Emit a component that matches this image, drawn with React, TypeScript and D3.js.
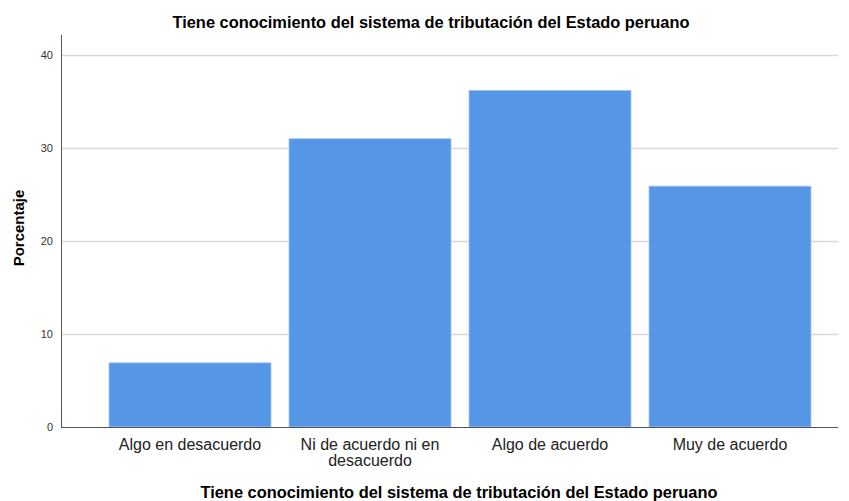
import React, { useEffect, useRef } from 'react';
import * as d3 from 'd3';

const categories = ['Algo en desacuerdo', 'Ni de acuerdo ni en desacuerdo', 'Algo de acuerdo', 'Muy de acuerdo'];
const categoryLines = [['Algo en desacuerdo'], ['Ni de acuerdo ni en', 'desacuerdo'], ['Algo de acuerdo'], ['Muy de acuerdo']];
const percentages = [6.9, 31.0, 36.2, 25.9];
const yTicks = [0, 10, 20, 30, 40];

const chartTitle = 'Tiene conocimiento del sistema de tributación del Estado peruano';

const App = () => {
    const ref = useRef<SVGSVGElement>(null);

    useEffect(() => {
        const svg = d3.select(ref.current);
        svg.selectAll('*').remove();

        const width = 849;
        const height = 501;
        const left = 61;
        const right = 838;
        const top = 35;
        const bottom = 427;
        const font = '"Liberation Sans", Arial, sans-serif';

        const x = d3.scaleBand<string>()
            .domain(categories)
            .range([100, 820])
            .paddingInner(0.1)
            .paddingOuter(0.05);

        const y = d3.scaleLinear().domain([0, 40]).range([bottom, bottom - 40 * 9.3]);

        svg.attr('width', width).attr('height', height);

        // title
        svg.append('text')
            .attr('x', 431)
            .attr('y', 28)
            .attr('text-anchor', 'middle')
            .style('font-family', font)
            .style('font-weight', 'bold')
            .style('font-size', '16.4px')
            .text(chartTitle);

        // gridlines
        svg.append('g')
            .selectAll('line')
            .data(yTicks.filter(t => t > 0))
            .enter()
            .append('line')
            .attr('x1', left)
            .attr('x2', right)
            .attr('y1', d => Math.round(y(d)) + 0.5)
            .attr('y2', d => Math.round(y(d)) + 0.5)
            .attr('stroke', '#d9d9d9')
            .attr('stroke-width', 1.5);

        // bars
        svg.append('g')
            .selectAll('rect')
            .data(percentages)
            .enter()
            .append('rect')
            .attr('x', (d, i) => x(categories[i]) as number)
            .attr('width', x.bandwidth())
            .attr('y', d => y(d))
            .attr('height', d => y(0) - y(d))
            .attr('fill', '#5596e6')
            .attr('stroke', '#a9c8f2')
            .attr('stroke-width', 0.8);

        // axes lines
        svg.append('line')
            .attr('x1', left + 0.5).attr('x2', left + 0.5)
            .attr('y1', top).attr('y2', bottom)
            .attr('stroke', '#555').attr('stroke-width', 1);
        svg.append('line')
            .attr('x1', left).attr('x2', right)
            .attr('y1', bottom + 0.5).attr('y2', bottom + 0.5)
            .attr('stroke', '#555').attr('stroke-width', 1);

        // y tick labels
        svg.append('g')
            .selectAll('text')
            .data(yTicks)
            .enter()
            .append('text')
            .attr('x', 53)
            .attr('y', d => y(d))
            .attr('dy', '0.35em')
            .attr('text-anchor', 'end')
            .style('font-family', font)
            .style('font-size', '11px')
            .style('fill', '#333')
            .text(d => d);

        // y title
        svg.append('text')
            .attr('transform', `translate(24, 228) rotate(-90)`)
            .attr('text-anchor', 'middle')
            .style('font-family', font)
            .style('font-weight', 'bold')
            .style('font-size', '15px')
            .text('Porcentaje');

        // x tick labels
        const xl = svg.append('g')
            .selectAll('text')
            .data(categories)
            .enter()
            .append('text')
            .attr('x', d => (x(d) as number) + x.bandwidth() / 2)
            .attr('y', 450)
            .attr('text-anchor', 'middle')
            .style('font-family', font)
            .style('font-size', '16px')
            .style('fill', '#222');
        xl.selectAll('tspan')
            .data((d, i) => categoryLines[i].map(s => ({ s, cx: (x(d) as number) + x.bandwidth() / 2 })))
            .enter()
            .append('tspan')
            .attr('x', d => d.cx)
            .attr('dy', (d, i) => (i === 0 ? 0 : 16))
            .text(d => d.s);

        // x title
        svg.append('text')
            .attr('x', 459)
            .attr('y', 498)
            .attr('text-anchor', 'middle')
            .style('font-family', font)
            .style('font-weight', 'bold')
            .style('font-size', '16.4px')
            .text(chartTitle);
    }, []);

    return (
        <div style={{ position: 'absolute', left: 0, top: 0 }}>
            <svg ref={ref}></svg>
        </div>
    );
};

export default App;
